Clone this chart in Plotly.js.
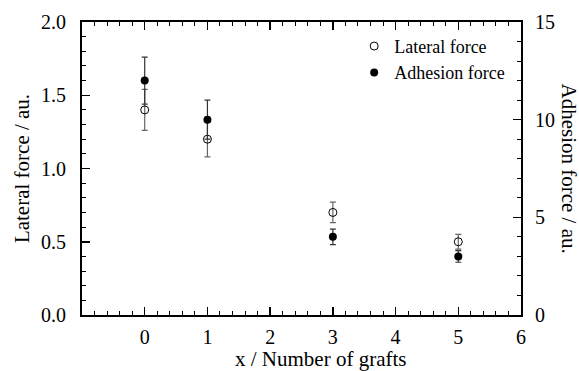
<!DOCTYPE html>
<html><head><meta charset="utf-8">
<script src="https://cdn.plot.ly/plotly-3.0.1.min.js"></script>
<style>html,body{margin:0;padding:0;background:#fff}</style>
</head><body><div id="chart" style="width:579px;height:371px"></div>
<script>
var grafts = [0, 1, 3, 5];
var lateralForce = [1.40, 1.20, 0.70, 0.50];
var lateralErr = [0.14, 0.12, 0.07, 0.05];
var adhesionForce = [12.0, 10.0, 4.0, 3.0];
var adhesionErr = [1.2, 1.0, 0.4, 0.3];
var xTicks = [0, 1, 2, 3, 4, 5, 6];

var F = '"Liberation Serif", "Times New Roman", Times, serif';
var traces = [
  {x: grafts, y: lateralForce, name: 'Lateral force', type: 'scatter', mode: 'markers',
   marker: {symbol: 'circle-open', size: 8, color: '#000', line: {width: 1, color: '#000'}},
   error_y: {type: 'data', array: lateralErr, visible: true, color: '#666', thickness: 1.2, width: 3}},
  {x: grafts, y: adhesionForce, name: 'Adhesion force', type: 'scatter', mode: 'markers', yaxis: 'y2',
   marker: {symbol: 'circle', size: 8, color: '#000'},
   error_y: {type: 'data', array: adhesionErr, visible: true, color: '#333', thickness: 1.2, width: 3}}
];
var layout = {
  width: 579, height: 371,
  margin: {l: 82, r: 58, t: 22, b: 56},
  paper_bgcolor: '#fff', plot_bgcolor: '#fff',
  font: {family: F, size: 20, color: '#000'},
  showlegend: true,
  legend: {x: 0.62, y: 0.98, xanchor: 'left', yanchor: 'top', bgcolor: 'rgba(0,0,0,0)',
           font: {family: F, size: 18}, tracegroupgap: 0, itemwidth: 30},
  xaxis: {range: [-1, 6], tickvals: xTicks, ticktext: xTicks.map(String), showgrid: false, zeroline: false,
          showline: true, linecolor: '#000', linewidth: 2, mirror: 'ticks',
          ticks: 'inside', ticklen: 8, tickwidth: 1.5, tickcolor: '#000',
          minor: {dtick: 0.2, tick0: 0, ticks: 'inside', ticklen: 4, tickcolor: '#000', tickwidth: 1},
          tickfont: {family: F, size: 20}, ticklabelstandoff: 3},
  yaxis: {range: [0, 2], tickvals: [0, 0.5, 1, 1.5, 2], ticktext: ['0.0', '0.5', '1.0', '1.5', '2.0'],
          showgrid: false, zeroline: false, showline: true, linecolor: '#000', linewidth: 2,
          ticks: 'inside', ticklen: 8, tickwidth: 1.5, tickcolor: '#000',
          minor: {dtick: 0.1, ticks: 'inside', ticklen: 4, tickcolor: '#000', tickwidth: 1},
          tickfont: {family: F, size: 20}, ticklabelstandoff: 10,
          title: {text: 'Lateral force / au.', font: {family: F, size: 21}, standoff: 6}},
  yaxis2: {range: [0, 15], overlaying: 'y', side: 'right', tickvals: [0, 5, 10, 15],
          showgrid: false, zeroline: false, showline: true, linecolor: '#000', linewidth: 2,
          ticks: 'inside', ticklen: 8, tickwidth: 1.5, tickcolor: '#000',
          minor: {dtick: 1, ticks: 'inside', ticklen: 4, tickcolor: '#000', tickwidth: 1},
          tickfont: {family: F, size: 20}, ticklabelstandoff: 8},
  annotations: [
    {text: 'Adhesion force / au.', xref: 'paper', yref: 'paper', x: 1, y: 0.5,
     xanchor: 'left', xshift: 34, textangle: 90, showarrow: false, font: {family: F, size: 21}},
    {text: 'x / Number of grafts', xref: 'paper', yref: 'paper', x: 0.543, y: 0,
     yanchor: 'top', yshift: -30, showarrow: false, font: {family: F, size: 21}}]
};
Plotly.newPlot('chart', traces, layout, {displayModeBar: false, staticPlot: true});
</script></body></html>
